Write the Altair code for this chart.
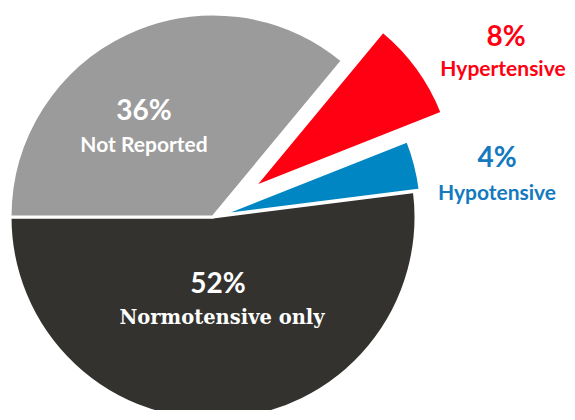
import math
import altair as alt
import pandas as pd

categories = ["Hypertensive", "Hypotensive", "Normotensive only", "Not Reported"]
values = [8, 4, 52, 36]
colors = ["#FF0012", "#0086C3", "#33322E", "#9B9B9B"]
text_colors = ["#FF0012", "#1479BE", "#FFFFFF", "#FFFFFF"]

df = pd.DataFrame({"category": categories, "value": values, "order": list(range(len(values)))})

W, H = 559, 402
CX, CY = 205, 209
R = 203
start = math.radians(39.6)
explode = {"Hypertensive": 50, "Hypotensive": 6}

base = (
    alt.Chart(df)
    .transform_window(cum="sum(value)", sort=[alt.SortField("order")])
    .transform_calculate(start="datum.cum - datum.value", label="datum.value + '%'")
)

theta_scale = alt.Scale(domain=[0, sum(values)], range=[start, start + 2 * math.pi])
color_scale = alt.Scale(domain=categories, range=colors)

layers = []
total = sum(values)
cum = 0
for cat, v in zip(categories, values):
    mid = start + 2 * math.pi * (cum + v / 2) / total
    cum += v
    d = explode.get(cat, 0)
    cx = CX + d * math.sin(mid)
    cy = CY - d * math.cos(mid)
    layers.append(
        base.transform_filter(alt.datum.category == cat)
        .mark_arc(outerRadius=R, stroke="white", strokeWidth=3)
        .encode(
            theta=alt.Theta("start:Q", scale=theta_scale, stack=False),
            theta2=alt.Theta2("cum:Q"),
            color=alt.Color("category:N", scale=color_scale, legend=None),
            x=alt.value(cx),
            y=alt.value(cy),
        )
    )

# label placement (pct line, name line) in chart pixels
label_pos = {
    "Not Reported": ((136, 104), (136, 138), "Lato", 21),
    "Normotensive only": ((210, 277), (214, 310), "DejaVu Serif", 19.5),
    "Hypertensive": ((498, 30), (495, 62), "Lato", 21),
    "Hypotensive": ((489, 151), (489, 186), "Lato", 21),
}
for cat, tc in zip(categories, text_colors):
    (px, py), (nx, ny), font2, fs2 = label_pos[cat]
    sub = base.transform_filter(alt.datum.category == cat)
    layers.append(
        sub.mark_text(font="Lato", fontWeight="bold", fontSize=28, color=tc,
                      align="center", baseline="middle")
        .encode(text="label:N", x=alt.value(px), y=alt.value(py))
    )
    layers.append(
        sub.mark_text(font=font2, fontWeight="bold", fontSize=fs2, color=tc,
                      align="center", baseline="middle")
        .encode(text="category:N", x=alt.value(nx), y=alt.value(ny))
    )

chart = (
    alt.layer(*layers)
    .properties(width=W, height=H, padding=0, autosize="none")
    .configure_view(stroke=None)
)

chart.save("out.html", embed_options={"renderer": "svg", "actions": False})
